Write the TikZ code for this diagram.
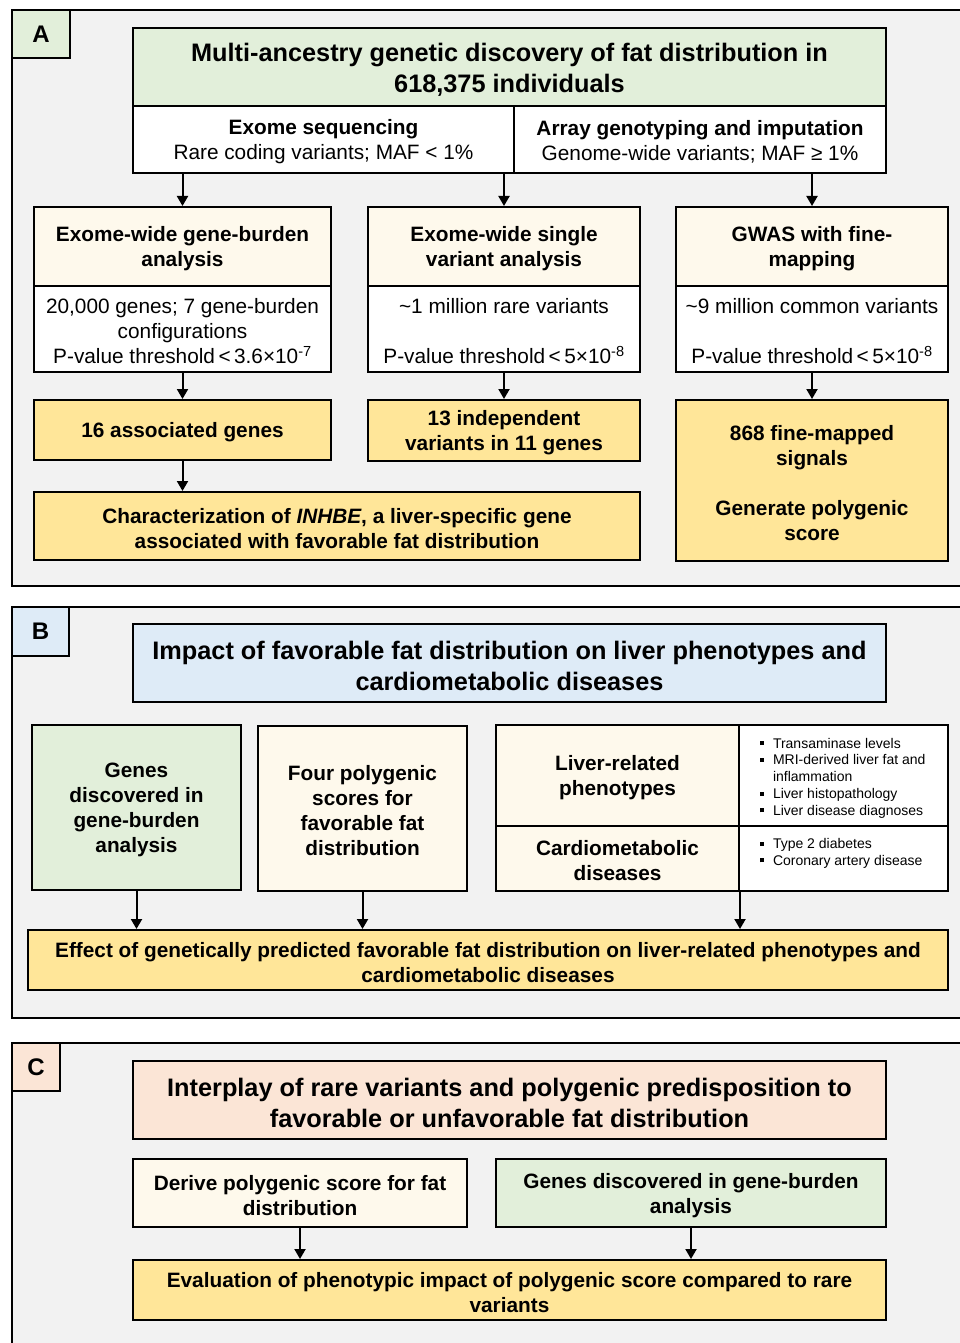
\documentclass[tikz,border=0pt]{standalone}
\usepackage{fontspec}
\setmainfont{Liberation Sans}
\usetikzlibrary{arrows.meta}

\definecolor{panelgrey}{HTML}{F2F2F2}
\definecolor{boxgreen}{HTML}{E2EFDA}
\definecolor{boxcream}{HTML}{FEF9EC}
\definecolor{boxyellow}{HTML}{FFE699}
\definecolor{boxblue}{HTML}{DEEBF7}
\definecolor{boxpeach}{HTML}{FBE5D6}

\newcommand{\ttlfont}{\fontsize{25.3}{31}\selectfont\bfseries}
\newcommand{\hdrfont}{\fontsize{20.8}{25}\selectfont\bfseries}
\newcommand{\txtfont}{\fontsize{20.8}{25}\selectfont\mdseries}
\newcommand{\smlfont}{\fontsize{14}{16.8}\selectfont\mdseries}
\newcommand{\sqbul}{\makebox[13pt][l]{\rule[3pt]{4pt}{4pt}}}
\newcommand{\pthr}[1]{P-value threshold\,<\,#1}

\begin{document}
\begin{tikzpicture}[x=1pt,y=-1pt,line width=2pt,
  box/.style={draw=black,inner sep=0pt,align=flush center,font=\hdrfont,
    execute at begin node={\rule{0pt}{20pt}}},
  sz/.style 2 args={minimum width=#1,minimum height=#2,text width=#1-6},
  ttlbox/.style={box,font=\ttlfont,execute at begin node={\rule{0pt}{23.5pt}}},
  txtbox/.style={box,font=\txtfont,execute at begin node={\rule{0pt}{17pt}}},
  cell/.style={draw=black,fill=white,inner sep=0pt},
  listtxt/.style={inner sep=0pt,align=left,font=\smlfont,anchor=north west},
  lblbox/.style={draw=black,inner sep=0pt,font=\fontsize{24}{28}\selectfont\bfseries},
  panel/.style={draw=black,fill=panelgrey},
  arr/.style={line width=2pt,-{Triangle[length=10pt,width=11pt]}}]
\useasboundingbox (0,0) rectangle (960,1343);
\clip (0,0) rectangle (960,1343);

% panel A
\draw[panel] (12,10) rectangle (975,586);
\node[lblbox,fill=boxgreen,minimum width=58,minimum height=48] (labA) at (41,34) {A};
\node[ttlbox,fill=boxgreen,sz={753}{78}] (titleA) at (509.5,67)
  {Multi-ancestry genetic discovery of fat distribution in\\618,375 individuals};
\node[box,fill=white,sz={381}{67}] (seqExome) at (323.5,139.5)
  {Exome sequencing\\{\txtfont Rare coding variants; MAF < 1\%}};
\node[box,fill=white,sz={372}{67}] (seqArray) at (700,139.5)
  {Array genotyping and imputation\\{\txtfont Genome-wide variants; MAF ≥ 1\%}};

\node[box,fill=boxcream,sz={297}{79}] (gbHead) at (182.5,246.5)
  {Exome-wide gene-burden\\analysis};
\node[txtbox,fill=white,sz={297}{86}] (gbBody) at (182.5,329)
  {20,000 genes; 7 gene-burden\\configurations\\\pthr{3.6×10\textsuperscript{-7}}};
\node[box,fill=boxcream,sz={272}{79}] (svHead) at (504,246.5)
  {Exome-wide single\\variant analysis};
\node[txtbox,fill=white,sz={272}{86}] (svBody) at (504,329)
  {\textasciitilde1 million rare variants\\[25pt]\pthr{5×10\textsuperscript{-8}}};
\node[box,fill=boxcream,sz={272}{79}] (gwHead) at (812,246.5)
  {GWAS with fine-\\mapping};
\node[txtbox,fill=white,sz={272}{86}] (gwBody) at (812,329)
  {\textasciitilde9 million common variants\\[25pt]\pthr{5×10\textsuperscript{-8}}};

\node[box,fill=boxyellow,sz={297}{60}] (gbGenes) at (182.5,430)
  {16 associated genes};
\node[box,fill=boxyellow,sz={272}{61}] (svGenes) at (504,430.5)
  {13 independent\\variants in 11 genes};
\node[box,fill=boxyellow,sz={272}{161}] (gwSignals) at (812,480.5)
  {868 fine-mapped\\signals\\[25pt]Generate polygenic\\score};
\node[box,fill=boxyellow,sz={606}{68}] (inhbe) at (337,526)
  {Characterization of \textit{INHBE}, a liver-specific gene\\associated with favorable fat distribution};

\draw[arr] (gbHead.north |- seqExome.south) -- (gbHead.north);
\draw[arr] (svHead.north |- seqExome.south) -- (svHead.north);
\draw[arr] (gwHead.north |- seqArray.south) -- (gwHead.north);
\draw[arr] (gbBody) -- (gbGenes);
\draw[arr] (svBody) -- (svGenes);
\draw[arr] (gwBody) -- (gwSignals);
\draw[arr] (gbGenes.south) -- (gbGenes.south |- inhbe.north);

% panel B
\draw[panel] (12,607) rectangle (975,1018);
\node[lblbox,fill=boxblue,minimum width=57,minimum height=49] (labB) at (40.5,631.5) {B};
\node[ttlbox,fill=boxblue,sz={753}{78}] (titleB) at (509.5,663)
  {Impact of favorable fat distribution on liver phenotypes and\\cardiometabolic diseases};
\node[box,fill=boxgreen,sz={209}{165}] (bGenes) at (136.5,807.5)
  {Genes\\discovered in\\gene-burden\\analysis};
\node[box,fill=boxcream,sz={209}{165}] (bScores) at (362.5,808.5)
  {Four polygenic\\scores for\\favorable fat\\distribution};
\node[box,fill=boxcream,sz={243}{101}] (liverHead) at (617.5,775.5)
  {Liver-related\\phenotypes};
\node[cell,minimum width=209,minimum height=101] (liverList) at (843.5,775.5) {};
\node[listtxt,xshift=21pt,yshift=-13pt] (liverItems) at (liverList.north west)
  {\sqbul Transaminase levels\\\sqbul MRI-derived liver fat and\\\hspace*{13pt}inflammation\\\sqbul Liver histopathology\\\sqbul Liver disease diagnoses};
\node[box,fill=boxcream,sz={243}{65}] (cardioHead) at (617.5,858.5)
  {Cardiometabolic\\diseases};
\node[cell,minimum width=209,minimum height=65] (cardioList) at (843.5,858.5) {};
\node[listtxt,xshift=21pt,yshift=-12.5pt] (cardioItems) at (cardioList.north west)
  {\sqbul Type 2 diabetes\\\sqbul Coronary artery disease};
\node[box,fill=boxyellow,sz={920}{60}] (bEffect) at (488,960)
  {Effect of genetically predicted favorable fat distribution on liver-related phenotypes and\\cardiometabolic diseases};

\draw[arr] (bGenes.south) -- (bGenes.south |- bEffect.north);
\draw[arr] (bScores.south) -- (bScores.south |- bEffect.north);
\draw[arr] (cardioHead.south east) -- (cardioHead.south east |- bEffect.north);

% panel C
\draw[panel] (12,1043) rectangle (975,1360);
\node[lblbox,fill=boxpeach,minimum width=48,minimum height=48] (labC) at (36,1067) {C};
\node[ttlbox,fill=boxpeach,sz={753}{78}] (titleC) at (509.5,1100)
  {Interplay of rare variants and polygenic predisposition to\\favorable or unfavorable fat distribution};
\node[box,fill=boxcream,sz={334}{68}] (cDerive) at (300,1193)
  {Derive polygenic score for fat\\distribution};
\node[box,fill=boxgreen,sz={390}{68}] (cGenes) at (691,1193)
  {Genes discovered in gene-burden\\analysis};
\node[box,fill=boxyellow,sz={753}{60}] (cEval) at (509.5,1290)
  {Evaluation of phenotypic impact of polygenic score compared to rare\\variants};

\draw[arr] (cDerive.south) -- (cDerive.south |- cEval.north);
\draw[arr] (cGenes.south) -- (cGenes.south |- cEval.north);
\end{tikzpicture}
\end{document}
